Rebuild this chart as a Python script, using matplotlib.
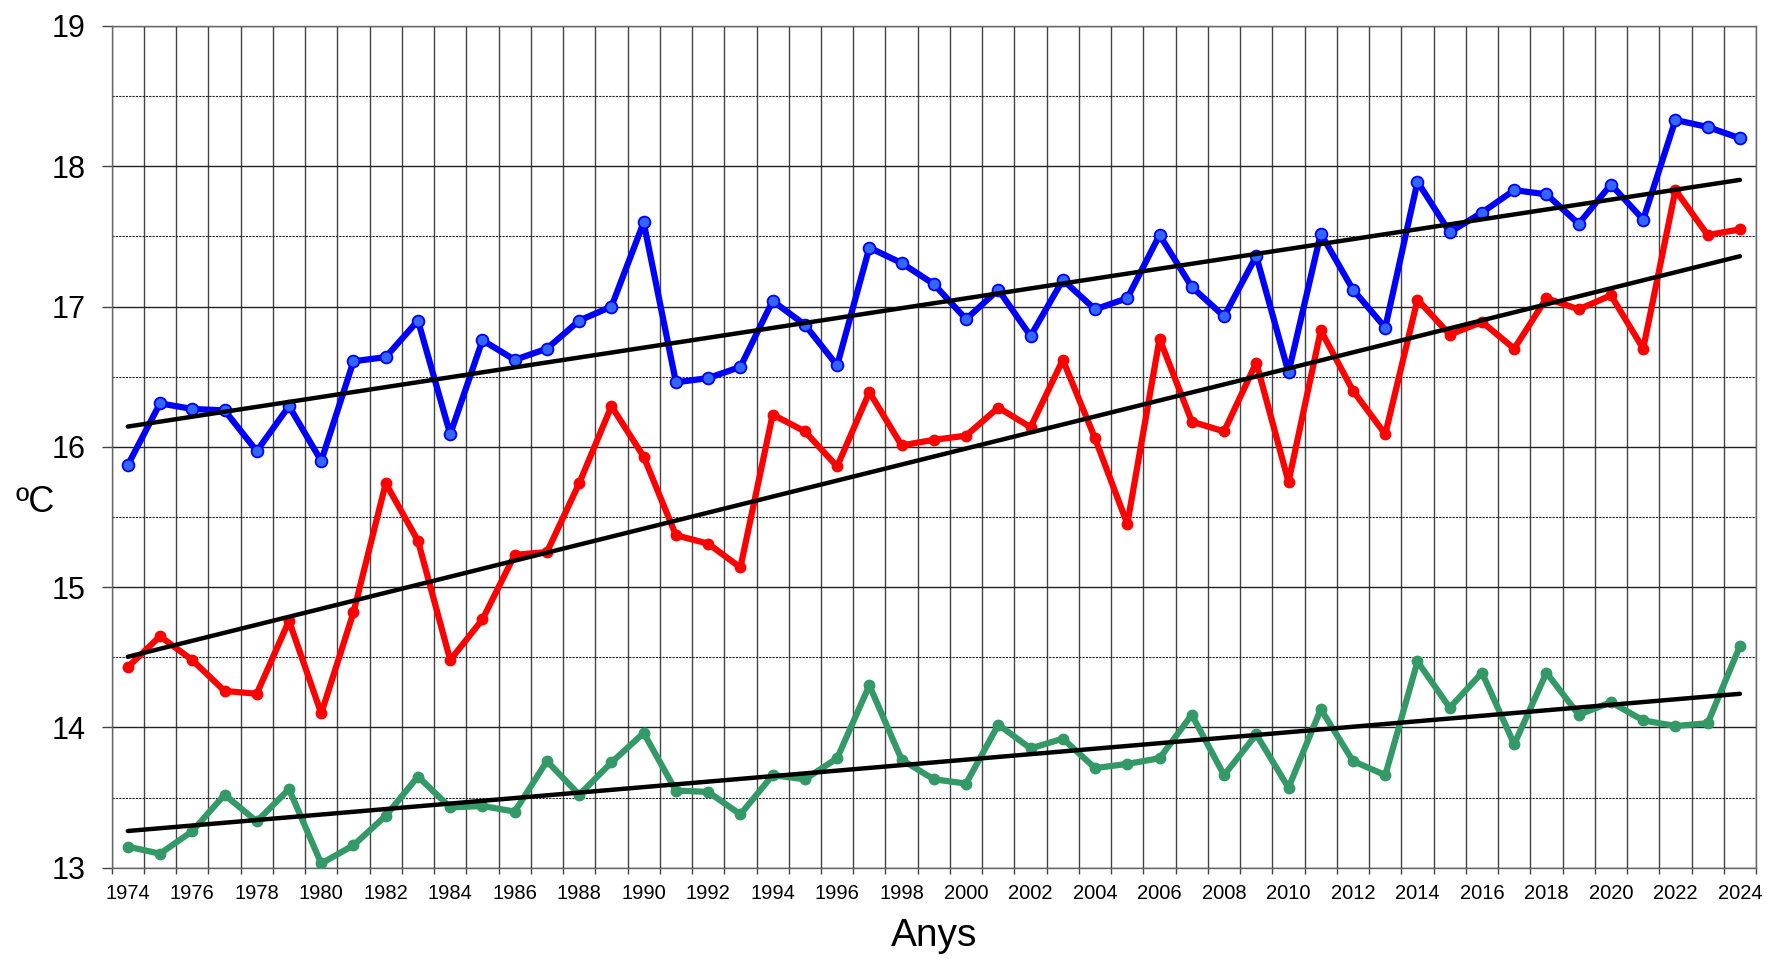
import numpy as np
import matplotlib.pyplot as plt
from matplotlib.ticker import MultipleLocator, FixedLocator

plt.rcParams['font.family'] = ['Liberation Sans', 'DejaVu Sans']

years = list(range(1974, 2025))

t_max = [15.87, 16.31, 16.27, 16.26, 15.97, 16.29, 15.90, 16.61, 16.64, 16.90,
         16.09, 16.76, 16.62, 16.70, 16.90, 17.00, 17.60, 16.46, 16.49, 16.57,
         17.04, 16.87, 16.58, 17.42, 17.31, 17.16, 16.91, 17.12, 16.79, 17.19,
         16.98, 17.06, 17.51, 17.14, 16.93, 17.36, 16.53, 17.52, 17.12, 16.85,
         17.89, 17.53, 17.67, 17.83, 17.80, 17.59, 17.87, 17.62, 18.33, 18.28,
         18.20]

t_mid = [14.43, 14.65, 14.48, 14.26, 14.24, 14.76, 14.10, 14.82, 15.74, 15.33,
         14.48, 14.77, 15.23, 15.25, 15.74, 16.29, 15.93, 15.37, 15.31, 15.14,
         16.23, 16.11, 15.86, 16.39, 16.01, 16.05, 16.08, 16.28, 16.14, 16.62,
         16.06, 15.45, 16.77, 16.18, 16.11, 16.60, 15.75, 16.83, 16.40, 16.09,
         17.05, 16.80, 16.89, 16.70, 17.06, 16.98, 17.08, 16.70, 17.83, 17.51,
         17.55]

t_min = [13.15, 13.10, 13.26, 13.52, 13.33, 13.56, 13.03, 13.16, 13.37, 13.65,
         13.43, 13.44, 13.40, 13.76, 13.52, 13.75, 13.96, 13.55, 13.54, 13.38,
         13.66, 13.63, 13.78, 14.30, 13.77, 13.63, 13.60, 14.02, 13.85, 13.92,
         13.71, 13.74, 13.78, 14.09, 13.66, 13.95, 13.57, 14.13, 13.76, 13.66,
         14.47, 14.14, 14.39, 13.88, 14.39, 14.09, 14.18, 14.05, 14.01, 14.03,
         14.58]

fig = plt.figure(figsize=(17.67, 9.59), dpi=100)
ax = fig.add_axes([0.0632, 0.0952, 0.9306, 0.8777])

ax.plot(years, t_max, color='#0000FF', lw=4.5, marker='o', ms=8.5,
        mfc='#3366FF', mec='#0000FF', mew=1.3, zorder=3)
ax.plot(years, t_mid, color='#FF0000', lw=4.5, marker='o', ms=7.5,
        mfc='#FF0000', mec='#FF0000', zorder=3)
ax.plot(years, t_min, color='#339966', lw=4.5, marker='o', ms=7.5,
        mfc='#339966', mec='#339966', zorder=3)

x = np.array(years)
for s in (t_max, t_mid, t_min):
    k, b = np.polyfit(x, s, 1)
    ax.plot([x[0], x[-1]], [k * x[0] + b, k * x[-1] + b], color='black',
            lw=3.2, solid_capstyle='round', zorder=4)

ax.set_xlim(1973.5, 2024.5)
ax.set_ylim(13, 19)

ax.yaxis.set_major_locator(MultipleLocator(1))
ax.yaxis.set_minor_locator(MultipleLocator(0.5))
ax.xaxis.set_major_locator(FixedLocator(years[::2]))
ax.xaxis.set_minor_locator(FixedLocator([y - 0.5 for y in years] + [2024.5]))

ax.grid(which='major', axis='y', color='#222222', lw=1.0)
ax.grid(which='minor', axis='y', color='#222222', lw=0.8, ls=(0, (2, 1)))
ax.grid(which='minor', axis='x', color='#444444', lw=1.0)
ax.set_axisbelow(True)

ax.tick_params(axis='y', which='major', length=7, width=1, color='#444444',
               labelsize=22, pad=12)
ax.tick_params(axis='y', which='minor', length=0)
ax.tick_params(axis='x', which='major', length=0, labelsize=14.5, pad=12)
ax.tick_params(axis='x', which='minor', length=4, width=1, color='#444444')

for sp in ax.spines.values():
    sp.set_color('#666666')
    sp.set_linewidth(1)

fig.text(35 / 1767, 1 - 502 / 959, 'ºC', fontsize=26, ha='center', va='center')
fig.text(934 / 1767, 1 - 936 / 959, 'Anys', fontsize=28, ha='center', va='center')

fig.savefig('out.png', dpi=100)
